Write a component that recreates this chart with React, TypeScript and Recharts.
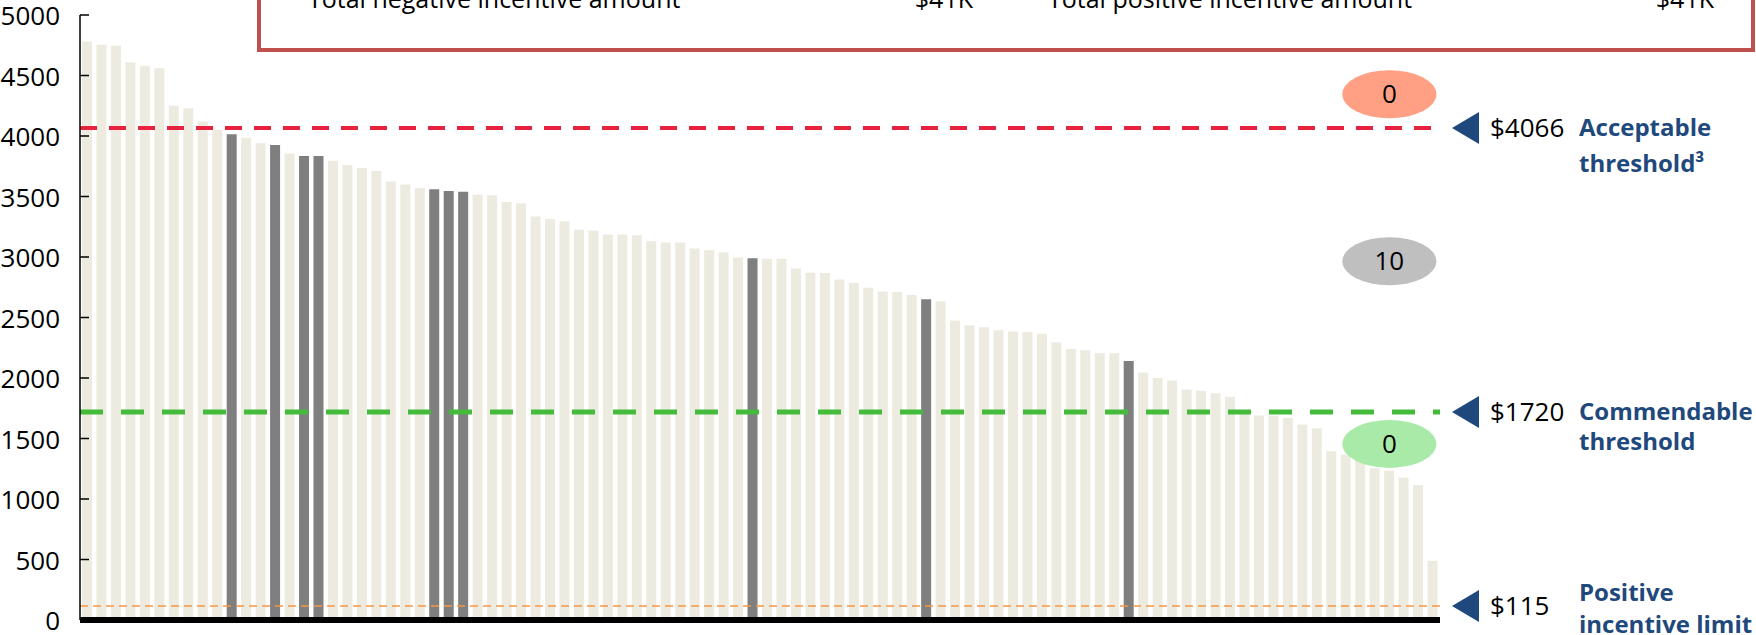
import React from "react";
import { BarChart, Bar, Cell, XAxis, YAxis, ReferenceLine, ReferenceDot } from "recharts";

// one bar per person, sorted by amount
const people = Array.from({ length: 94 }, (_, i) => String(i + 1));
const amounts = [
  4780, 4755, 4745, 4610, 4580, 4560, 4250, 4230, 4120, 4050,
  4015, 3985, 3940, 3925, 3855, 3835, 3835, 3795, 3760, 3735,
  3710, 3625, 3600, 3570, 3560, 3545, 3540, 3515, 3510, 3455,
  3445, 3335, 3315, 3295, 3225, 3220, 3185, 3185, 3180, 3130,
  3120, 3120, 3070, 3055, 3040, 2995, 2990, 2985, 2985, 2905,
  2870, 2868, 2815, 2785, 2745, 2715, 2710, 2685, 2650, 2635,
  2475, 2435, 2420, 2395, 2385, 2380, 2365, 2295, 2240, 2230,
  2205, 2205, 2140, 2045, 2000, 1980, 1905, 1895, 1875, 1845,
  1705, 1690, 1690, 1670, 1615, 1585, 1395, 1365, 1320, 1255,
  1235, 1175, 1115, 490,
];
// people highlighted in dark grey
const flagged = ["11", "14", "16", "17", "25", "26", "27", "47", "59", "73"];

const yTicks = [0, 500, 1000, 1500, 2000, 2500, 3000, 3500, 4000, 4500, 5000];

const thresholdValues = [4066, 1720, 115];
const thresholdTags = ["$4066", "$1720", "$115"];
const thresholdNames = [
  ["Acceptable", "threshold³"],
  ["Commendable", "threshold"],
  ["Positive", "incentive limit"],
];

const bubbleCounts = ["0", "10", "0"];
const bubbleLevels = [4345, 2965, 1455];
const bubbleAt = "91";

const summaryLabels = ["Total negative incentive amount", "Total positive incentive amount"];
const summaryValues = ["$41K", "$41K"];

const data = people.map((name, i) => ({ name, amount: amounts[i] }));

const FONT = "'Open Sans', 'Noto Sans', sans-serif";
const NAVY = "#1F497D";

function AmountTick(props: any) {
  const { x, y, payload } = props;
  return (
    <g>
      <line x1={x + 20} x2={x + 29} y1={y} y2={y} stroke="#000" strokeWidth={1.5} />
      <text x={x} y={y + 10} textAnchor="end" fontFamily={FONT} fontSize={26} fill="#000">
        {payload.value}
      </text>
    </g>
  );
}

// second-line offsets differ a bit per label in the original
const nameOffsets = [
  [8, 44],
  [8, 38],
  [-5, 27],
];

function ThresholdLabel(props: any) {
  const { viewBox, idx } = props;
  const right = viewBox.x + viewBox.width;
  const y = viewBox.y;
  const [o1, o2] = nameOffsets[idx];
  return (
    <g>
      <polygon
        points={`${right + 12},${y} ${right + 39},${y - 16} ${right + 39},${y + 16}`}
        fill={NAVY}
      />
      <text x={right + 50} y={y + 9} fontFamily={FONT} fontSize={26} fill="#000">
        {thresholdTags[idx]}
      </text>
      <text x={right + 139} y={y + o1} fontFamily={FONT} fontSize={24} fontWeight={700} fill={NAVY}>
        {thresholdNames[idx][0]}
      </text>
      <text x={right + 139} y={y + o2} fontFamily={FONT} fontSize={24} fontWeight={700} fill={NAVY}>
        {thresholdNames[idx][1]}
      </text>
    </g>
  );
}

const bubbleFills = ["#FFA084", "#BFBFBF", "#A9EAA9"];

function Bubble(props: any) {
  const { cx, cy, idx } = props;
  return (
    <g>
      <ellipse cx={cx} cy={cy} rx={47} ry={24} fill={bubbleFills[idx]} />
      <text x={cx} y={cy + 9} textAnchor="middle" fontFamily={FONT} fontSize={26} fill="#000">
        {bubbleCounts[idx]}
      </text>
    </g>
  );
}

export default function App() {
  return (
    <div style={{ position: "absolute", left: 0, top: 0, width: 1756, height: 635, background: "#fff" }}>
      <BarChart
        width={1756}
        height={635}
        data={data}
        margin={{ top: 15, right: 316, bottom: 9, left: 0 }}
      >
        <XAxis
          dataKey="name"
          height={6}
          tick={false}
          tickLine={false}
          axisLine={{ stroke: "#000", strokeWidth: 6 }}
        />
        <YAxis
          width={80}
          domain={[0, 5000]}
          ticks={yTicks}
          interval={0}
          tickSize={0}
          tickMargin={20}
          tickLine={false}
          axisLine={{ stroke: "#000", strokeWidth: 1.5 }}
          tick={<AmountTick />}
        />
        <Bar dataKey="amount" barSize={10} isAnimationActive={false}>
          {data.map((d) => (
            <Cell
              key={d.name}
              fill={flagged.includes(d.name) ? "#7F7F7F" : "#EDEBE0"}
            />
          ))}
        </Bar>
        <ReferenceLine
          y={thresholdValues[2]}
          stroke="#F79646"
          strokeWidth={1.5}
          strokeDasharray="8 5"
          label={<ThresholdLabel idx={2} />}
        />
        <ReferenceLine
          y={thresholdValues[0]}
          stroke="#E8213F"
          strokeWidth={4}
          strokeDasharray="17 12"
          label={<ThresholdLabel idx={0} />}
        />
        <ReferenceLine
          y={thresholdValues[1]}
          stroke="#44BB3A"
          strokeWidth={5}
          strokeDasharray="23 18"
          label={<ThresholdLabel idx={1} />}
        />
        {bubbleLevels.map((lv, i) => (
          <ReferenceDot
            key={i}
            x={bubbleAt}
            y={lv}
            r={1}
            shape={(p: any) => <Bubble {...p} idx={i} />}
          />
        ))}
      </BarChart>
      <svg
        width={1756}
        height={635}
        style={{ position: "absolute", left: 0, top: 0, pointerEvents: "none" }}
      >
        <rect x={259} y={-80} width={1494} height={130} fill="none" stroke="#C0504D" strokeWidth={4} />
        <text x={308} y={8} fontFamily={FONT} fontSize={25} fill="#000">
          {summaryLabels[0]}
        </text>
        <text x={973} y={8} textAnchor="end" fontFamily={FONT} fontSize={25} fill="#000">
          {summaryValues[0]}
        </text>
        <text x={1048} y={8} fontFamily={FONT} fontSize={25} fill="#000">
          {summaryLabels[1]}
        </text>
        <text x={1714} y={8} textAnchor="end" fontFamily={FONT} fontSize={25} fill="#000">
          {summaryValues[1]}
        </text>
      </svg>
    </div>
  );
}
